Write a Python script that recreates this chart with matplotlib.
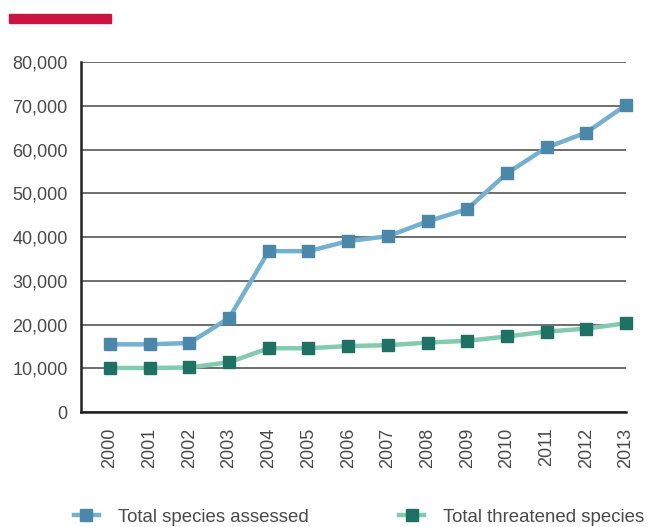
import numpy as np
import matplotlib
matplotlib.use('Agg')
import matplotlib.pyplot as plt
from matplotlib.patches import Rectangle

years = list(range(2000, 2014))
total_assessed = [15500, 15500, 15800, 21500, 36800, 36800, 39100, 40200,
                  43600, 46400, 54600, 60500, 63900, 70200]
total_threatened = [10100, 10100, 10200, 11400, 14600, 14600, 15100, 15300,
                    15900, 16300, 17300, 18400, 19100, 20300]
y_ticks = list(range(0, 80001, 10000))

plt.rcParams['font.family'] = ['Liberation Sans', 'DejaVu Sans']

fig = plt.figure(figsize=(6.48, 5.27), dpi=100, facecolor='white')
ax = fig.add_axes([0.125, 0.218, 0.841, 0.664])

# red accent bar top-left
fig.patches.append(Rectangle((9 / 648, 1 - 23 / 527), 102 / 648, 9 / 527,
                             transform=fig.transFigure, color='#cc1444'))

l1, = ax.plot(years, total_assessed, color='#74b0d0', lw=3.2, marker='s', ms=8,
              mfc='#4a87a8', mec='#4a87a8', label='Total species assessed',
              zorder=3, clip_on=False)
l2, = ax.plot(years, total_threatened, color='#82cbae', lw=3.2, marker='s', ms=8,
              mfc='#1f7263', mec='#1f7263', label='Total threatened species',
              zorder=3, clip_on=False)

ax.set_xlim(1999.27, 2013)
ax.set_ylim(0, 80000)
ax.set_yticks(y_ticks)
ax.set_yticklabels([f'{v:,}' for v in y_ticks])
ax.set_xticks(years)
ax.set_xticklabels([str(y) for y in years], rotation=90)
ax.yaxis.grid(True, color='#555555', lw=1.2)
ax.set_axisbelow(True)

for side in ['top', 'right']:
    ax.spines[side].set_visible(False)
for side in ['left', 'bottom']:
    ax.spines[side].set_color('#222222')
    ax.spines[side].set_linewidth(1.8)

ax.tick_params(axis='both', length=0, labelsize=13, labelcolor='#4a4a4a')
ax.tick_params(axis='y', pad=9.5)
ax.tick_params(axis='x', pad=11)

# two separate legend entries, like the reference
for handle, x0 in [(l1, 0.114), (l2, 0.616)]:
    leg = fig.legend(handles=[handle], loc='center left',
                     bbox_to_anchor=(x0, 1 - 517 / 527), frameon=False,
                     fontsize=13.4, handlelength=1.35, handletextpad=1.0,
                     borderpad=0, borderaxespad=0)
    for t in leg.get_texts():
        t.set_color('#4a4a4a')

fig.savefig('out.png', dpi=100, facecolor='white')
